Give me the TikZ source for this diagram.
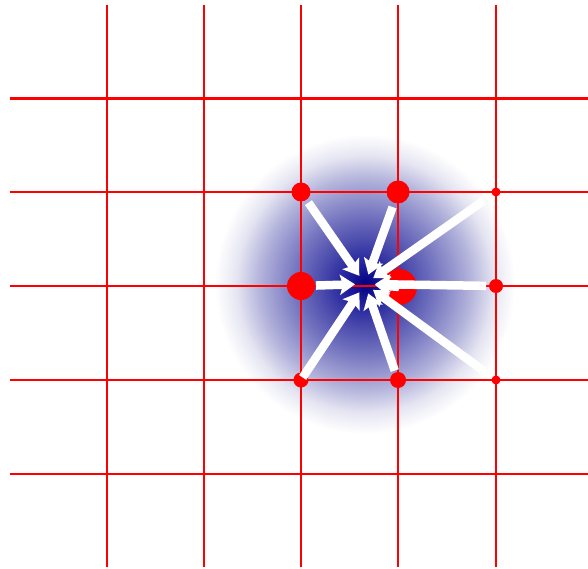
\documentclass[tikz,border=0pt]{standalone}
\usetikzlibrary{arrows.meta}
\pgfdeclareradialshading{glow}{\pgfpoint{0bp}{0bp}}{rgb(0bp)=(0,0,0.5); rgb(2.5bp)=(0.1,0.1,0.6); rgb(7.5bp)=(0.3,0.3,0.68); rgb(11.5bp)=(0.45,0.45,0.75); rgb(17.5bp)=(0.7,0.7,0.86); rgb(21.5bp)=(0.9,0.9,0.95); rgb(25bp)=(1,1,1); rgb(50bp)=(1,1,1)}
\begin{document}
\begin{tikzpicture}[x=1pt,y=-1pt,
  gridline/.style={red, line width=2.3pt},
  dot/.style={circle, fill=red, inner sep=0pt, minimum size=#1},
  flow/.style={white, line width=8.5pt, -{Stealth[length=15pt,width=20pt,inset=3pt]}, shorten >=10pt}]
\useasboundingbox (0,0) rectangle (588,569);
\coordinate (p) at (365,284);
\shade[shading=glow] (p) circle[radius=150];
\foreach \x in {106.7,204,301,398.3,496} \draw[gridline] (\x,5) -- (\x,567);
\foreach \y in {98.5,192,286,380,473.7} \draw[gridline] (9.5,\y) -- (588,\y);
\node[dot=19pt] (a) at (301,192) {};
\node[dot=23pt] (b) at (398,192) {};
\node[dot=9pt] (c) at (496,192) {};
\node[dot=28pt] (d) at (301,286) {};
\node[dot=36pt] (m) at (399,287) {};
\node[dot=14pt] (e) at (496,286) {};
\node[dot=15pt] (f) at (301,380) {};
\node[dot=16pt] (g) at (398,380) {};
\node[dot=9pt] (h) at (496,380) {};
\draw[flow] (m.center) -- (p);
\draw[flow, shorten <=13pt] (a.center) -- (p);
\draw[flow, shorten <=16pt] (b.center) -- (p);
\draw[flow, shorten <=15pt] (c.center) -- (p);
\draw[flow, shorten <=15pt] (d.center) -- (p);
\draw[flow, shorten <=10pt] (e.center) -- (p);
\draw[flow, shorten <=3pt] (f.center) -- (p);
\draw[flow, shorten <=10pt] (g.center) -- (p);
\draw[flow, shorten <=11pt] (h.center) -- (p);
\end{tikzpicture}
\end{document}
